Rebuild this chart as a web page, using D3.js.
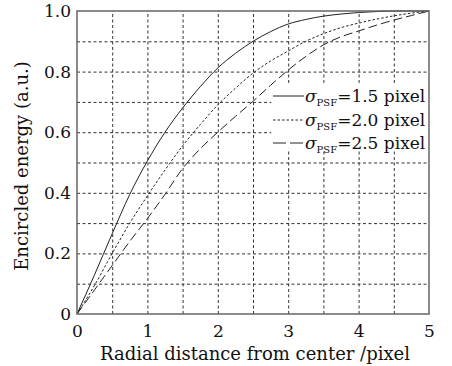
<!DOCTYPE html>
<html>
<head>
    <meta charset="UTF-8">
    <title>Encircled energy</title>
    <style>
        body { margin: 0; background: #fff; }
        text { font-family: "DejaVu Serif", serif; fill: #111; }
    </style>
</head>
<body>
    <div id="chart"></div>

    <script src="https://d3js.org/d3.v7.min.js"></script>
    <script>
        // data
        var radius = [0, 0.25, 0.5, 0.75, 1, 1.25, 1.5, 1.75, 2, 2.25, 2.5, 2.75, 3, 3.25, 3.5, 3.75, 4, 4.25, 4.5, 4.75, 5];
        var ee15 = [0, 0.13, 0.265, 0.395, 0.505, 0.6, 0.68, 0.75, 0.812, 0.86, 0.9, 0.932, 0.957, 0.972, 0.983, 0.99, 0.995, 0.998, 1, 1, 1];
        var ee20 = [0, 0.095, 0.2, 0.3, 0.39, 0.475, 0.555, 0.625, 0.69, 0.745, 0.795, 0.835, 0.868, 0.9, 0.925, 0.945, 0.96, 0.973, 0.984, 0.993, 1];
        var ee25 = [0, 0.08, 0.16, 0.24, 0.315, 0.395, 0.48, 0.545, 0.6, 0.652, 0.702, 0.755, 0.805, 0.85, 0.888, 0.915, 0.934, 0.953, 0.97, 0.985, 1];

        var xTicks = [0, 1, 2, 3, 4, 5];
        var yTicks = [0, 0.2, 0.4, 0.6, 0.8, 1.0];
        var yTickLabels = ["0", "0.2", "0.4", "0.6", "0.8", "1.0"];
        var xGrid = [0.5, 1, 1.5, 2, 2.5, 3, 3.5, 4, 4.5];
        var yGrid = [0.1, 0.2, 0.3, 0.4, 0.5, 0.6, 0.7, 0.8, 0.9];
        var legendValues = ["=1.5 pixel", "=2.0 pixel", "=2.5 pixel"];

        // size
        var width = 452;
        var height = 366;
        var margin = { top: 11, right: 23, bottom: 52, left: 77 };
        var w = width - margin.left - margin.right;
        var h = height - margin.top - margin.bottom;

        var svg = d3.select("#chart")
            .append("svg")
            .attr("width", width)
            .attr("height", height);

        svg.append("rect").attr("width", width).attr("height", height).attr("fill", "#fff");

        var g = svg.append("g")
            .attr("transform", "translate(" + margin.left + "," + margin.top + ")");

        var x = d3.scaleLinear().domain([0, 5]).range([0, w]);
        var y = d3.scaleLinear().domain([0, 1]).range([h, 0]);

        // grid
        g.append("g")
            .attr("class", "grid")
            .attr("transform", "translate(0," + h + ")")
            .call(d3.axisBottom(x).tickValues(xGrid).tickSize(-h).tickFormat(""));
        g.append("g")
            .attr("class", "grid")
            .call(d3.axisLeft(y).tickValues(yGrid).tickSize(-w).tickFormat(""));
        g.selectAll(".grid .domain").remove();
        g.selectAll(".grid line")
            .attr("stroke", "#333")
            .attr("stroke-width", 1)
            .attr("stroke-dasharray", "3,2.5");

        // legend background hides the grid
        var lx = x(2.76), ly = y(0.76);
        g.append("rect")
            .attr("x", lx)
            .attr("y", ly)
            .attr("width", w - lx)
            .attr("height", y(0.545) - ly)
            .attr("fill", "#fff");

        // curves
        var series = [
            { values: ee15, dash: null },
            { values: ee20, dash: "2.5,2" },
            { values: ee25, dash: "9,4" }
        ];

        var line = d3.line()
            .x(function (d) { return x(d[0]); })
            .y(function (d) { return y(d[1]); })
            .curve(d3.curveMonotoneX);

        g.selectAll(".curve")
            .data(series)
            .enter()
            .append("path")
            .attr("class", "curve")
            .attr("fill", "none")
            .attr("stroke", "#222")
            .attr("stroke-width", 1)
            .attr("stroke-dasharray", function (d) { return d.dash; })
            .attr("d", function (d) {
                return line(radius.map(function (r, i) { return [r, d.values[i]]; }));
            });

        // frame
        g.append("rect")
            .attr("width", w)
            .attr("height", h)
            .attr("fill", "none")
            .attr("stroke", "#666")
            .attr("stroke-width", 1.5);

        // tick labels
        var xAxis = g.append("g")
            .attr("transform", "translate(0," + h + ")")
            .call(d3.axisBottom(x).tickValues(xTicks).tickSize(0).tickPadding(11).tickFormat(d3.format("d")));
        var yAxis = g.append("g")
            .call(d3.axisLeft(y).tickValues(yTicks).tickSize(0).tickPadding(6)
                .tickFormat(function (d, i) { return yTickLabels[i]; }));
        [xAxis, yAxis].forEach(function (a) {
            a.select(".domain").remove();
            a.selectAll("text")
                .attr("font-family", "DejaVu Serif")
                .attr("font-size", 17)
                .attr("fill", "#111");
        });

        // axis titles
        svg.append("text")
            .attr("x", margin.left + w / 2 + 2)
            .attr("y", 360)
            .attr("text-anchor", "middle")
            .attr("font-size", 18)
            .text("Radial distance from center /pixel");

        svg.append("text")
            .attr("transform", "translate(28," + 166 + ") rotate(-90)")
            .attr("text-anchor", "middle")
            .attr("font-size", 18)
            .text("Encircled energy (a.u.)");

        // legend
        var rowY = [96, 120, 143];
        var legend = svg.append("g");
        var rows = legend.selectAll("g")
            .data(series)
            .enter()
            .append("g")
            .attr("transform", function (d, i) { return "translate(273," + rowY[i] + ")"; });

        rows.append("line")
            .attr("x1", 0)
            .attr("x2", 31)
            .attr("stroke", "#222")
            .attr("stroke-width", 1)
            .attr("stroke-dasharray", function (d, i) { return i === 2 ? "13,4" : d.dash; });

        var label = rows.append("text")
            .attr("x", 32)
            .attr("y", 6)
            .attr("font-size", 17);
        label.append("tspan")
            .attr("font-style", "italic")
            .text("\u03c3");
        label.append("tspan")
            .attr("font-size", 10)
            .attr("dy", 4)
            .text("PSF");
        label.append("tspan")
            .attr("dy", -4)
            .text(function (d, i) { return legendValues[i]; });
    </script>
</body>
</html>
